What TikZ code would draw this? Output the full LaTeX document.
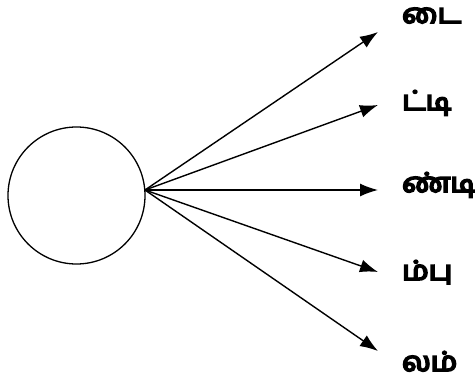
\documentclass[tikz,border=0pt]{standalone}
\usepackage{fontspec}
\usepackage{graphicx}
\newfontfamily\tamilfont[Script=Tamil]{Hind Madurai}
\newcommand\heavy[1]{\special{pdf:literal direct 2 Tr 1.8 w}#1\special{pdf:literal direct 0 Tr}}
\usetikzlibrary{arrows.meta}

\begin{document}
\begin{tikzpicture}[
  x=1pt, y=-1pt,
  lbl/.style={anchor=base west, inner sep=0pt, font=\tamilfont\fontsize{27}{29}\selectfont},
  ar/.style={-{Latex[length=18pt,width=13pt]}, line width=1.4pt},
]
\useasboundingbox (0,0) rectangle (475,383);
\draw[line width=1.3pt] (76.5,195.5) circle (68.5);
\coordinate (hub) at (145,190);

\node[lbl] (w1) at (402,23)  {\scalebox{1.1}[1]{\heavy{டை}}};
\node[lbl] (w2) at (402,110) {\scalebox{1.1}[1]{\heavy{ட்டி}}};
\node[lbl] (w3) at (402,192) {\scalebox{1.1}[1]{\heavy{ண்டி}}};
\node[lbl] (w4) at (402,280) {\scalebox{1.1}[1]{\heavy{ம்பு}}};
\node[lbl] (w5) at (402,371) {\scalebox{1.1}[1]{\heavy{லம்}}};

\coordinate (t1) at (378,32);
\coordinate (t2) at (378,105);
\coordinate (t3) at (378,190);
\coordinate (t4) at (378,272);
\coordinate (t5) at (378,351);

\draw[ar] (hub) -- (t1);
\draw[ar] (hub) -- (t2);
\draw[ar] (hub) -- (t3);
\draw[ar] (hub) -- (t4);
\draw[ar] (hub) -- (t5);
\end{tikzpicture}
\end{document}
